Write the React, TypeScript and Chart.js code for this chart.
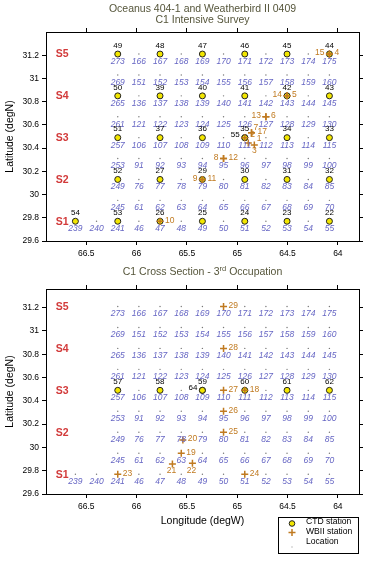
import React, { useEffect, useRef } from "react";
import { Chart, registerables } from "chart.js";
Chart.register(...registerables);

// ---------- data ----------
const xTickValues = [64, 64.5, 65, 65.5, 66, 66.5];
const yTickValues = [29.6, 29.8, 30, 30.2, 30.4, 30.6, 30.8, 31, 31.2];

// station grid (degW, degN)
const gridLon = [66.608, 66.398, 66.187, 65.977, 65.767, 65.556, 65.346, 65.136, 64.925, 64.715, 64.505, 64.294, 64.084];
const gridLat = [29.77, 29.95, 30.13, 30.31, 30.49, 30.67, 30.85, 31.03, 31.21];

// location numbers per grid row (south to north); full rows start at column 1, others at column 3
const locRow1 = ["239", "240", "241", "46", "47", "48", "49", "50", "51", "52", "53", "54", "55"];
const locRow2 = ["245", "61", "62", "63", "64", "65", "66", "67", "68", "69", "70"];
const locRow3 = ["249", "76", "77", "78", "79", "80", "81", "82", "83", "84", "85"];
const locRow4 = ["253", "91", "92", "93", "94", "95", "96", "97", "98", "99", "100"];
const locRow5 = ["257", "106", "107", "108", "109", "110", "111", "112", "113", "114", "115"];
const locRow6 = ["261", "121", "122", "123", "124", "125", "126", "127", "128", "129", "130"];
const locRow7 = ["265", "136", "137", "138", "139", "140", "141", "142", "143", "144", "145"];
const locRow8 = ["269", "151", "152", "153", "154", "155", "156", "157", "158", "159", "160"];
const locRow9 = ["273", "166", "167", "168", "169", "170", "171", "172", "173", "174", "175"];
const locRows = [locRow1, locRow2, locRow3, locRow4, locRow5, locRow6, locRow7, locRow8, locRow9];

// section names
const sectionNames = ["S1", "S2", "S3", "S4", "S5"];
const sectionLat = [29.77, 30.13, 30.49, 30.85, 31.21];
const sectionLon = 66.74;

// Panel 1: C1 Intensive Survey
const ctdTopIds = ["49", "48", "47", "46", "45", "44", "50", "39", "40", "41", "42", "43", "51", "37", "36", "35", "55", "34", "33", "52", "27", "29", "30", "31", "32", "54", "53", "26", "25", "24", "23", "22"];
const ctdTopLon = [66.187, 65.767, 65.346, 64.925, 64.505, 64.084, 66.187, 65.767, 65.346, 64.925, 64.505, 64.084, 66.187, 65.767, 65.346, 64.925, 64.925, 64.505, 64.084, 66.187, 65.767, 65.346, 64.925, 64.505, 64.084, 66.608, 66.187, 65.767, 65.346, 64.925, 64.505, 64.084];
const ctdTopLat = [31.21, 31.21, 31.21, 31.21, 31.21, 31.21, 30.85, 30.85, 30.85, 30.85, 30.85, 30.85, 30.49, 30.49, 30.49, 30.49, 30.49, 30.49, 30.49, 30.13, 30.13, 30.13, 30.13, 30.13, 30.13, 29.77, 29.77, 29.77, 29.77, 29.77, 29.77, 29.77];

const wbTopIds = ["15", "4", "14", "5", "13", "6", "8", "12", "9", "11", "10", "2", "1", "3", "7", "17"];
const wbTopLon = [64.084, 64.084, 64.505, 64.505, 64.715, 64.715, 65.136, 65.136, 65.346, 65.346, 65.767, 64.925, 64.890, 64.830, 64.858, 64.858];
const wbTopLat = [31.21, 31.21, 30.85, 30.85, 30.67, 30.67, 30.31, 30.31, 30.13, 30.13, 29.77, 30.49, 30.445, 30.427, 30.533, 30.533];

// Panel 2: C1 Cross Section - 3rd Occupation
const ctdBotIds = ["57", "58", "59", "64", "60", "61", "62"];
const ctdBotLon = [66.187, 65.767, 65.346, 65.346, 64.925, 64.505, 64.084];
const ctdBotLat = [30.49, 30.49, 30.49, 30.49, 30.49, 30.49, 30.49];

const wbBotIds = ["29", "28", "27", "18", "26", "25", "20", "19", "21", "22", "23", "24"];
const wbBotLon = [65.136, 65.136, 65.136, 64.925, 65.136, 65.136, 65.54, 65.556, 65.644, 65.445, 66.187, 64.925];
const wbBotLat = [31.21, 30.85, 30.49, 30.49, 30.31, 30.13, 30.064, 29.95, 29.858, 29.864, 29.77, 29.77];

// ---------- label placement (styling) ----------
type Place = [number, number, CanvasTextAlign];
const R: Place = [5, -1, "left"];
const L: Place = [-5, -1, "right"];
const B: Place = [-1, 7, "center"];
const ctdTopPlace: Place[] = ctdTopIds.map((id) => (id === "55" ? [-5, -3, "right"] : [0, -8.5, "center"]));
const wbTopPlace: Place[] = [L, R, L, R, L, R, L, R, L, R, R, [5.5, -3, "left"], [8.5, -4, "left"], [0, 6, "center"], [2, -5.5, "left"], [6, -1, "left"]];
const ctdBotPlace: Place[] = ctdBotIds.map((id) => (id === "64" ? [-5, -3, "right"] : [0, -8.5, "center"]));
const wbBotPlace: Place[] = [R, R, R, R, R, R, R, R, B, B, R, R];

const FONT = '"Liberation Sans", Arial, sans-serif';
const C_LOC = "#6666c4";
const C_WB = "#c07a20";
const C_SEC = "#d23a3a";
const C_TITLE = "#55553a";

function makeLocations() {
  const pts: { x: number; y: number; id: string }[] = [];
  locRows.forEach((row, r) => {
    const start = row.length === gridLon.length ? 0 : 2;
    row.forEach((id, i) => pts.push({ x: gridLon[start + i], y: gridLat[r], id }));
  });
  return pts;
}

function axisCommon(pos: string, showLabels: boolean, size: number, min: number, max: number, values: number[], reverse: boolean, horizontal: boolean) {
  return {
    type: "linear",
    position: pos,
    min,
    max,
    reverse,
    afterBuildTicks: (s: any) => {
      s.ticks = values.map((v) => ({ value: v }));
    },
    afterFit: (s: any) => {
      if (horizontal) s.height = size;
      else s.width = size;
    },
    grid: { drawOnChartArea: false, drawTicks: true, tickLength: 4, color: "#000", lineWidth: 1 },
    border: { display: true, color: "#000", width: 1 },
    ticks: {
      display: showLabels,
      color: "#000",
      font: { family: FONT, size: 8.5 },
      padding: horizontal ? 4 : 3,
      maxRotation: 0,
      autoSkip: false,
      callback: (v: any) => String(v),
    },
  };
}

interface PanelCfg {
  height: number;
  top: number;
  topAxis: number;
  bottomAxis: number;
  yMax: number;
  titleLines: string[];
  superTitle?: boolean;
  ctdIds: string[];
  ctdLon: number[];
  ctdLat: number[];
  ctdPlace: Place[];
  wbIds: string[];
  wbLon: number[];
  wbLat: number[];
  wbPlace: Place[];
  xTitle: boolean;
  legend: boolean;
}

function buildChart(canvas: HTMLCanvasElement, cfg: PanelCfg) {
  const locs = makeLocations();
  const ctd = cfg.ctdIds.map((id, i) => ({ x: cfg.ctdLon[i], y: cfg.ctdLat[i], id }));
  const wb = cfg.wbIds.map((id, i) => ({ x: cfg.wbLon[i], y: cfg.wbLat[i], id }));

  const overlay = {
    id: "overlay",
    afterDatasetsDraw(chart: any) {
      const ctx: CanvasRenderingContext2D = chart.ctx;
      const xs = chart.scales.x;
      const ys = chart.scales.y;
      ctx.save();
      ctx.textBaseline = "middle";
      // location labels
      ctx.font = `italic 8.5px ${FONT}`;
      ctx.fillStyle = C_LOC;
      ctx.textAlign = "center";
      locs.forEach((p) => {
        ctx.fillText(p.id, xs.getPixelForValue(p.x), ys.getPixelForValue(p.y) + 7.5);
      });
      // section names
      ctx.font = `bold 10.5px ${FONT}`;
      ctx.fillStyle = C_SEC;
      sectionNames.forEach((s, i) => {
        ctx.fillText(s, xs.getPixelForValue(sectionLon), ys.getPixelForValue(sectionLat[i]) + 0.5);
      });
      // CTD numbers
      ctx.font = `8px ${FONT}`;
      ctx.fillStyle = "#000";
      ctd.forEach((p, i) => {
        const [dx, dy, al] = cfg.ctdPlace[i];
        ctx.textAlign = al;
        ctx.fillText(p.id, xs.getPixelForValue(p.x) + dx, ys.getPixelForValue(p.y) + dy);
      });
      // WBII numbers
      ctx.font = `8.5px ${FONT}`;
      ctx.fillStyle = C_WB;
      wb.forEach((p, i) => {
        const [dx, dy, al] = cfg.wbPlace[i];
        ctx.textAlign = al;
        ctx.fillText(p.id, xs.getPixelForValue(p.x) + dx, ys.getPixelForValue(p.y) + dy);
      });
      ctx.restore();
    },
    afterDraw(chart: any) {
      const ctx: CanvasRenderingContext2D = chart.ctx;
      const area = chart.chartArea;
      const cx = (area.left + area.right) / 2;
      ctx.save();
      ctx.textBaseline = "middle";
      ctx.fillStyle = C_TITLE;
      ctx.font = `10.5px ${FONT}`;
      if (cfg.superTitle) {
        const a = "C1 Cross Section - 3";
        const sup = "rd";
        const b = " Occupation";
        ctx.font = `10.5px ${FONT}`;
        const wa = ctx.measureText(a).width;
        const wb2 = ctx.measureText(b).width;
        ctx.font = `7.5px ${FONT}`;
        const ws = ctx.measureText(sup).width;
        const total = wa + ws + wb2;
        let x0 = cx - total / 2;
        ctx.textAlign = "left";
        ctx.font = `10.5px ${FONT}`;
        ctx.fillText(a, x0, 10);
        ctx.font = `7.5px ${FONT}`;
        ctx.fillText(sup, x0 + wa, 6.5);
        ctx.font = `10.5px ${FONT}`;
        ctx.fillText(b, x0 + wa + ws, 10);
      } else {
        ctx.textAlign = "center";
        cfg.titleLines.forEach((t, i) => ctx.fillText(t, cx, 9 + i * 11));
      }
      // y axis title
      ctx.fillStyle = "#000";
      ctx.save();
      ctx.translate(10, (area.top + area.bottom) / 2);
      ctx.rotate(-Math.PI / 2);
      ctx.textAlign = "center";
      ctx.font = `10.5px ${FONT}`;
      ctx.fillText("Latitude (degN)", 0, 0);
      ctx.restore();
      if (cfg.xTitle) {
        ctx.textAlign = "center";
        ctx.font = `10.5px ${FONT}`;
        ctx.fillText("Longitude (degW)", cx, area.bottom + 27.5);
      }
      if (cfg.legend) {
        const lx = 278.5, ly = area.bottom + 23.5, lw = 80, lh = 36;
        ctx.strokeStyle = "#000";
        ctx.lineWidth = 1;
        ctx.strokeRect(lx, ly, lw, lh);
        ctx.font = `8.6px ${FONT}`;
        ctx.textAlign = "left";
        ctx.fillStyle = "#000";
        ctx.fillText("CTD station", 306, ly + 4);
        ctx.fillText("WBII station", 306, ly + 14);
        ctx.fillText("Location", 306, ly + 24);
        // symbols
        ctx.beginPath();
        ctx.arc(292, ly + 6, 2.8, 0, Math.PI * 2);
        ctx.fillStyle = "#f2e600";
        ctx.fill();
        ctx.strokeStyle = "#222";
        ctx.stroke();
        ctx.strokeStyle = C_WB;
        ctx.lineWidth = 1.5;
        ctx.beginPath();
        ctx.moveTo(288.5, ly + 15);
        ctx.lineTo(295.5, ly + 15);
        ctx.moveTo(292, ly + 11.5);
        ctx.lineTo(292, ly + 18.5);
        ctx.stroke();
        ctx.fillStyle = "#888";
        ctx.fillRect(291.5, ly + 29, 1, 1);
      }
      ctx.restore();
    },
  };

  const xmin = 63.79, xmax = 66.9;
  return new Chart(canvas, {
    type: "scatter",
    data: {
      datasets: [
        {
          label: "WBII station",
          data: wb,
          pointStyle: "cross",
          pointRadius: 3.5,
          borderColor: C_WB,
          backgroundColor: C_WB,
          borderWidth: 1.5,
        },
        {
          label: "CTD station",
          data: ctd,
          pointStyle: "circle",
          pointRadius: 3,
          backgroundColor: "#f2e600",
          borderColor: "#222",
          borderWidth: 1,
        },
        {
          label: "Location",
          data: locs,
          pointStyle: "circle",
          pointRadius: 0.7,
          backgroundColor: "#777",
          borderColor: "#777",
          borderWidth: 0,
        },
      ],
    } as any,
    options: {
      animation: false,
      responsive: false,
      maintainAspectRatio: false,
      layout: { padding: 0 },
      plugins: { legend: { display: false }, tooltip: { enabled: false }, title: { display: false } },
      scales: {
        x: axisCommon("bottom", true, cfg.bottomAxis, xmin, xmax, xTickValues, true, true),
        x2: axisCommon("top", false, cfg.topAxis, xmin, xmax, xTickValues, true, true),
        y: axisCommon("left", true, 46, 29.6, cfg.yMax, yTickValues, false, false),
        y2: axisCommon("right", false, 11, 29.6, cfg.yMax, yTickValues, false, false),
      } as any,
    } as any,
    plugins: [overlay as any],
  });
}

function Panel({ cfg }: { cfg: PanelCfg }) {
  const ref = useRef<HTMLCanvasElement>(null);
  useEffect(() => {
    if (!ref.current) return;
    const ch = buildChart(ref.current, cfg);
    return () => ch.destroy();
  }, []);
  return (
    <canvas
      ref={ref}
      width={370}
      height={cfg.height}
      style={{ position: "absolute", left: 0, top: cfg.top, width: 370, height: cfg.height }}
    />
  );
}

const topCfg: PanelCfg = {
  height: 262,
  top: 0,
  topAxis: 32,
  bottomAxis: 21,
  yMax: 31.4,
  titleLines: ["Oceanus 404-1 and Weatherbird II 0409", "C1 Intensive Survey"],
  ctdIds: ctdTopIds,
  ctdLon: ctdTopLon,
  ctdLat: ctdTopLat,
  ctdPlace: ctdTopPlace,
  wbIds: wbTopIds,
  wbLon: wbTopLon,
  wbLat: wbTopLat,
  wbPlace: wbTopPlace,
  xTitle: false,
  legend: false,
};

const botCfg: PanelCfg = {
  height: 299,
  top: 262,
  topAxis: 27,
  bottomAxis: 67,
  yMax: 31.36,
  titleLines: [],
  superTitle: true,
  ctdIds: ctdBotIds,
  ctdLon: ctdBotLon,
  ctdLat: ctdBotLat,
  ctdPlace: ctdBotPlace,
  wbIds: wbBotIds,
  wbLon: wbBotLon,
  wbLat: wbBotLat,
  wbPlace: wbBotPlace,
  xTitle: true,
  legend: true,
};

export default function App() {
  return (
    <div style={{ position: "absolute", left: 0, top: 0, width: 370, height: 561, background: "#fff" }}>
      <Panel cfg={topCfg} />
      <Panel cfg={botCfg} />
    </div>
  );
}
